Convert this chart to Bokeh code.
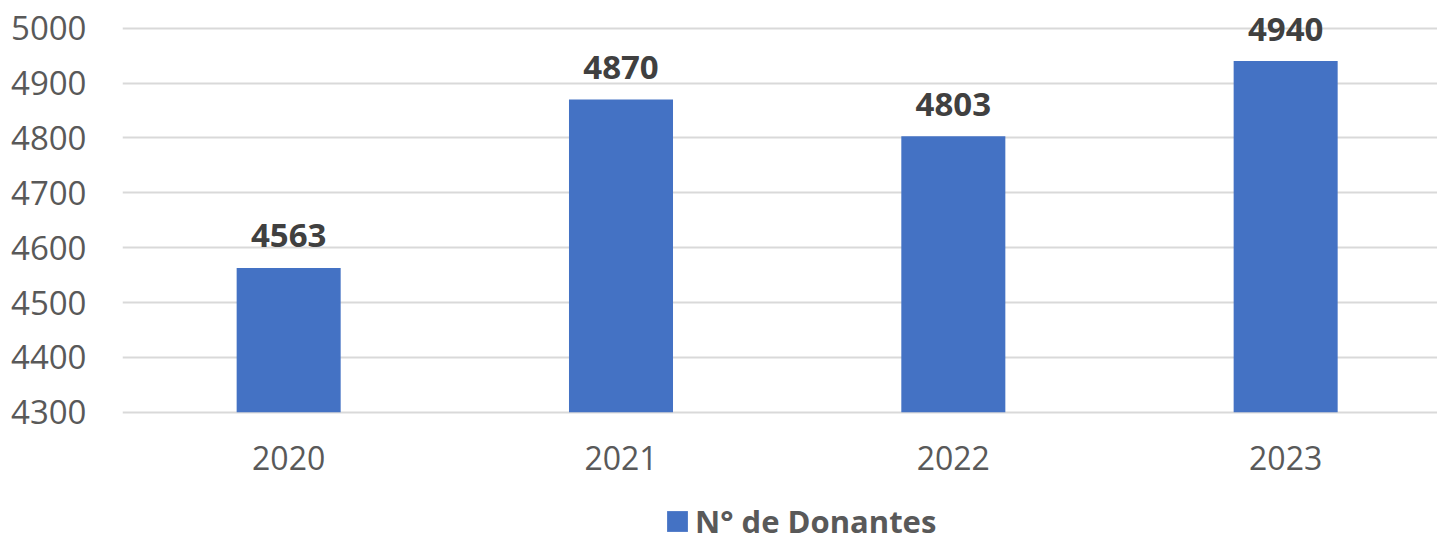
from bokeh.plotting import figure
from bokeh.models import (ColumnDataSource, Range1d, FixedTicker, Legend, LegendItem,
                          NumeralTickFormatter)
from bokeh.core.properties import value
from bokeh.embed import file_html
from bokeh.resources import INLINE

years = [2020, 2021, 2022, 2023]
donors = [4563, 4870, 4803, 4940]
labels = [str(v) for v in donors]
y_ticks = [4300, 4400, 4500, 4600, 4700, 4800, 4900, 5000]
series_name = "N° de Donantes"

y_min, y_max = 4300, 5000

src = ColumnDataSource(dict(x=years, top=donors, lab=labels))

# layout (pixels)
W, H = 1437, 533
left_border = 122
frame_w = W - left_border
cat_px = 332.33           # pixels per category
top_px = 27.7             # screen y of the top tick
px_per_unit = 0.5486      # pixels per data unit

y_lo = y_max - (H - top_px) / px_per_unit
y_hi = y_max + top_px / px_per_unit

p = figure(output_backend="svg", toolbar_location=None,
           frame_width=frame_w, frame_height=H,
           x_range=Range1d(years[0] - 0.5, years[0] - 0.5 + frame_w / cat_px),
           y_range=Range1d(y_lo, y_hi),
           min_border_left=left_border, min_border_right=0,
           min_border_top=0, min_border_bottom=0)
p.outline_line_color = None
p.background_fill_color = "white"
p.border_fill_color = "white"

r = p.vbar(x="x", top="top", bottom=y_min, width=0.313, source=src,
           fill_color="#4472C4", line_color=None)

p.text(x="x", y="top", text="lab", source=src, text_align="center",
       text_baseline="alphabetic", y_offset=-32,
       text_font=value("Open Sans"), text_font_style="bold",
       text_font_size="33px", text_color="#404040")

# y axis
p.yaxis.ticker = FixedTicker(ticks=y_ticks)
p.yaxis.axis_line_color = None
p.yaxis.major_tick_line_color = None
p.yaxis.minor_tick_line_color = None
p.yaxis.major_tick_out = 0
p.yaxis.major_label_text_font = "Open Sans"
p.yaxis.major_label_text_font_size = "33px"
p.yaxis.major_label_text_color = "#595959"
p.yaxis.major_label_standoff = 36

# x axis sits on the 4300 line inside the frame
p.xaxis.fixed_location = y_min
p.xaxis.ticker = FixedTicker(ticks=years)
p.xaxis.formatter = NumeralTickFormatter(format="0")
p.xaxis.axis_line_color = None
p.xaxis.major_tick_line_color = None
p.xaxis.minor_tick_line_color = None
p.xaxis.major_tick_out = 0
p.xaxis.major_tick_in = 0
p.xaxis.major_label_text_font = "Open Sans"
p.xaxis.major_label_text_font_size = "32px"
p.xaxis.major_label_text_color = "#595959"
p.xaxis.major_label_standoff = 34

p.xgrid.grid_line_color = None
p.ygrid.ticker = FixedTicker(ticks=y_ticks)
p.ygrid.grid_line_color = "#D9D9D9"
p.ygrid.grid_line_width = 2

legend = Legend(items=[LegendItem(label=series_name, renderers=[r])],
                orientation="horizontal", location=(542, -9),
                label_text_font="Open Sans", label_text_font_style="bold",
                label_text_font_size="31px", label_text_color="#595959",
                glyph_width=26, glyph_height=26, label_standoff=5,
                border_line_color=None, background_fill_alpha=0,
                padding=0, margin=0, spacing=0)
p.add_layout(legend)

open("out.html", "w").write(file_html(p, INLINE))
